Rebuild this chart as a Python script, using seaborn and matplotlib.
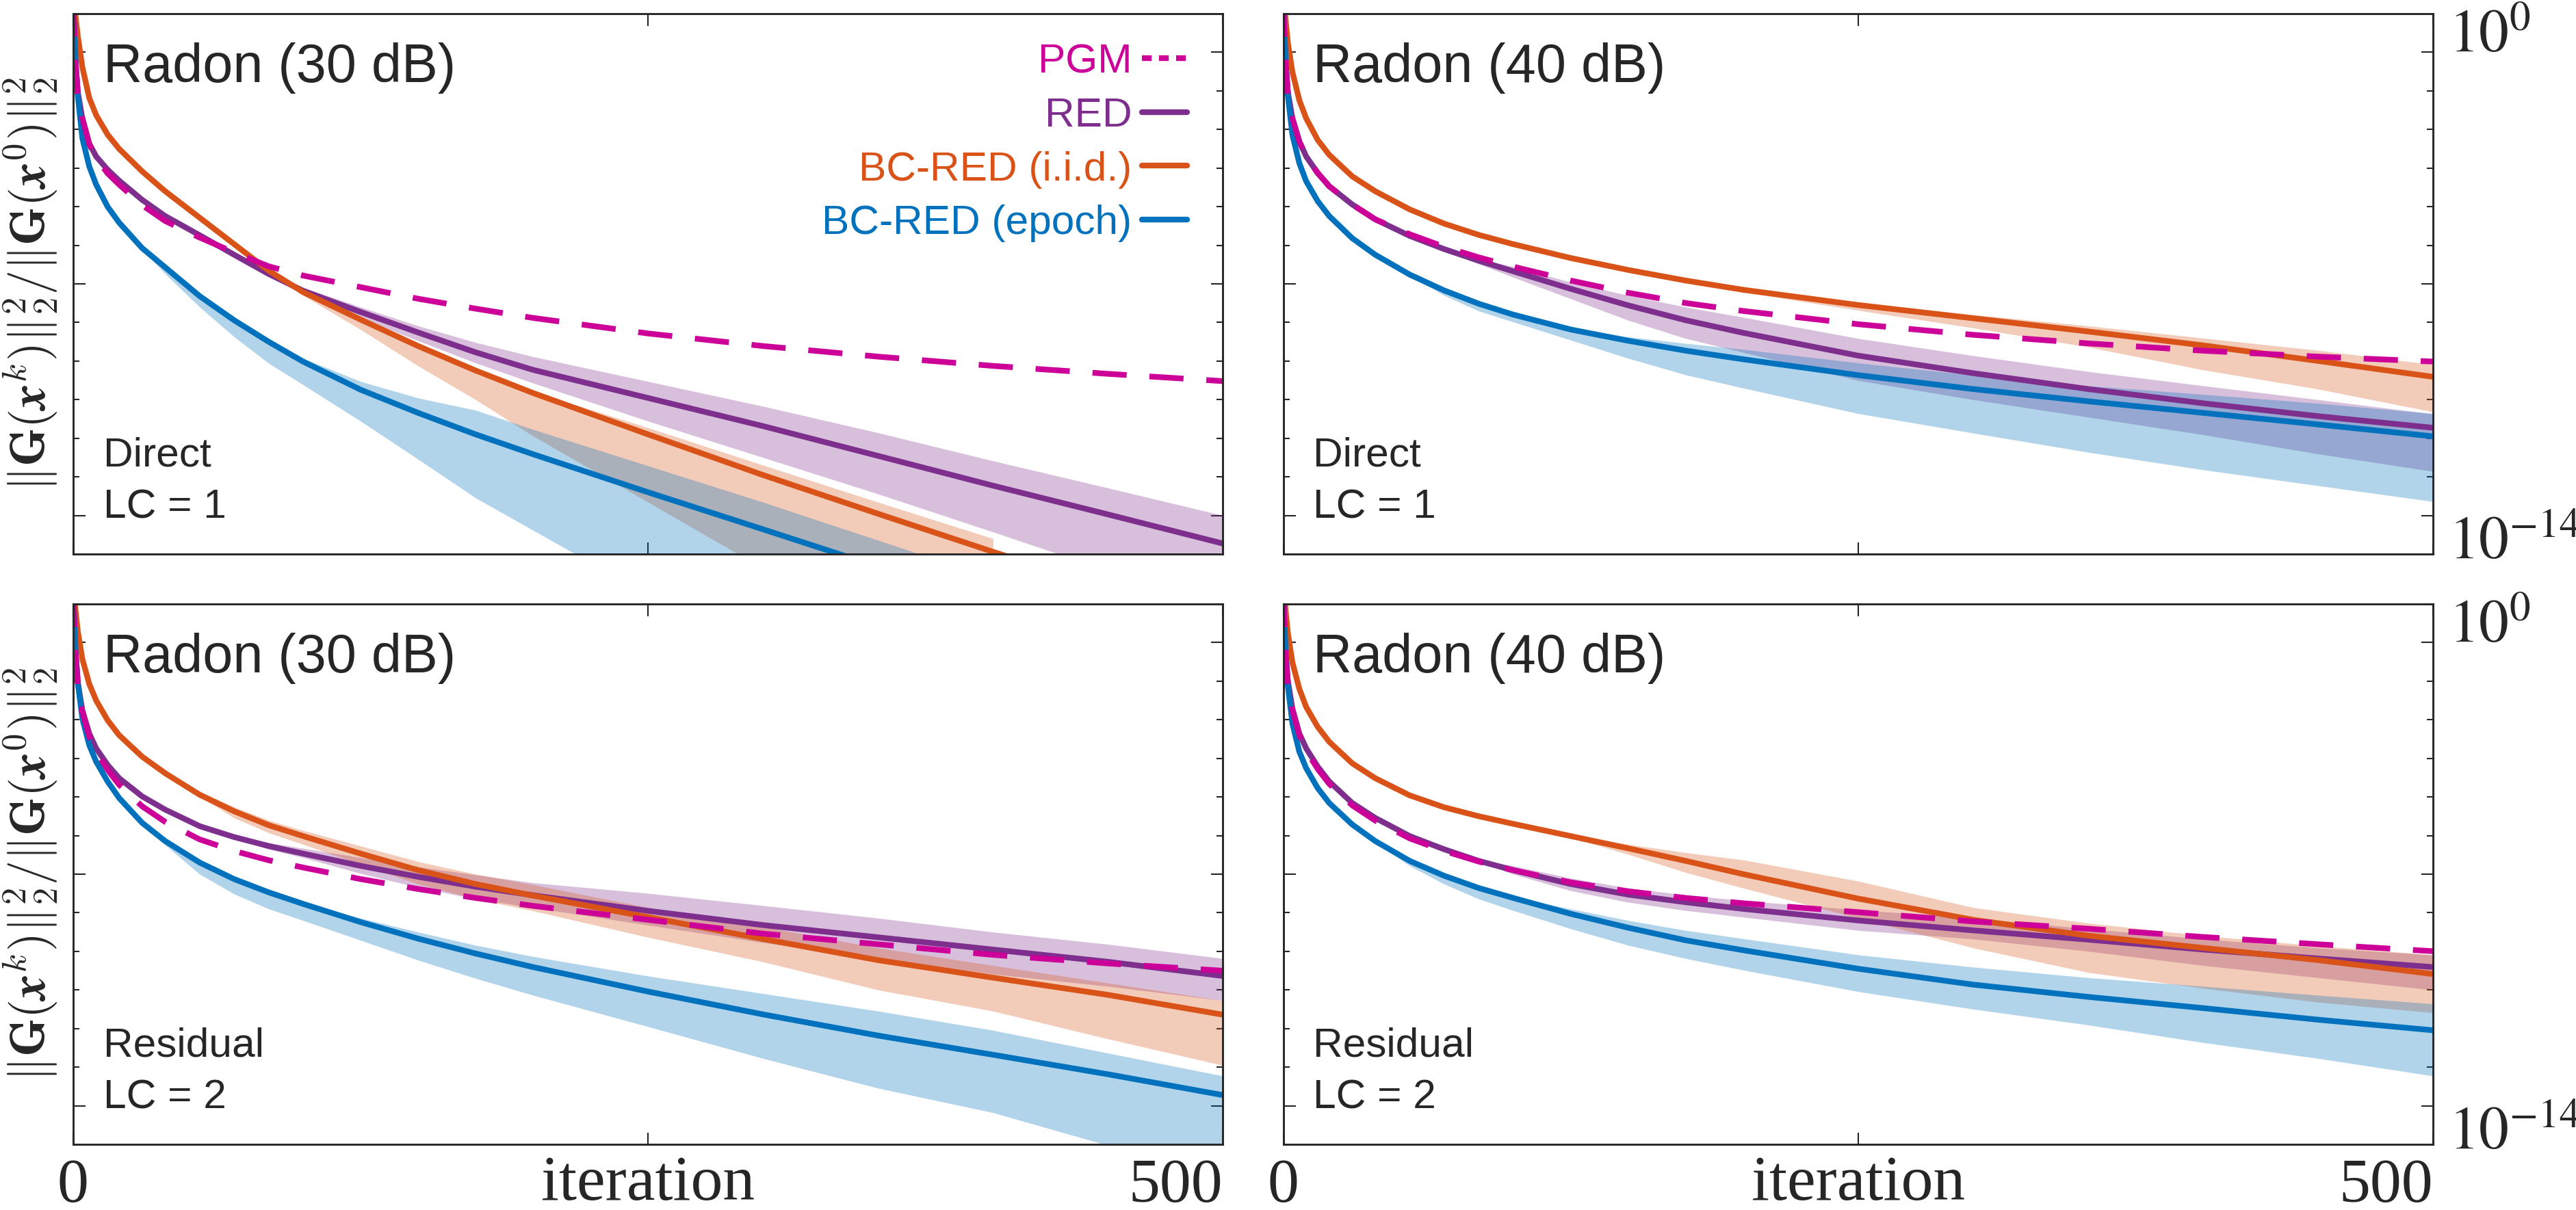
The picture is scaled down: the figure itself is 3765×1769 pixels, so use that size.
import numpy as np
import pandas as pd
import matplotlib
matplotlib.use("Agg")
import matplotlib.pyplot as plt
from matplotlib.ticker import NullFormatter
import seaborn as sns

nan = np.nan

iters = [0, 1, 2, 4, 7, 10, 15, 20, 30, 40, 55, 70, 85, 100, 125, 150, 175, 200, 250, 300, 350, 400, 450, 500]

# all values are log10 of ||G(x^k)||^2 / ||G(x^0)||^2
# --- top left: Radon (30 dB), Direct, LC = 1
tl_pgm = [1.5, -0.3, -1.2, -2.0, -2.78, -3.2, -3.66, -4.0, -4.62, -5.1, -5.6, -6.05, -6.47, -6.75, -7.1, -7.45, -7.75, -8.03, -8.5, -8.88, -9.2, -9.48, -9.72, -9.94]
tl_red = [1.5, -0.3, -1.2, -2.0, -2.76, -3.15, -3.55, -3.88, -4.46, -4.95, -5.53, -6.12, -6.7, -7.21, -7.85, -8.47, -9.07, -9.6, -10.45, -11.3, -12.2, -13.1, -13.97, -14.85]
tl_red_hi = [1.5, -0.26, -1.16, -1.96, -2.72, -3.11, -3.51, -3.84, -4.42, -4.91, -5.49, -6.08, -6.66, -7.11, -7.7, -8.27, -8.77, -9.2, -9.95, -10.7, -11.5, -12.35, -13.17, -14.0]
tl_red_lo = [1.5, -0.34, -1.24, -2.04, -2.8, -3.19, -3.59, -3.92, -4.5, -4.99, -5.57, -6.16, -6.74, -7.31, -8.03, -8.72, -9.39, -10.0, -11.15, -12.25, -13.35, -14.5, -15.67, -16.85]
tl_iid = [2.0, 1.1, 0.5, -0.45, -1.38, -1.9, -2.49, -2.92, -3.6, -4.2, -5.0, -5.8, -6.6, -7.25, -8.08, -8.88, -9.62, -10.3, -11.55, -12.78, -13.95, -15.1, -16.2, nan]
tl_iid_hi = [2.0, 1.15, 0.55, -0.4, -1.33, -1.85, -2.44, -2.87, -3.55, -4.15, -4.95, -5.75, -6.55, -7.2, -8.03, -8.83, -9.57, -10.25, -11.35, -12.48, -13.6, -14.7, -15.8, nan]
tl_iid_lo = [2.0, 1.05, 0.45, -0.5, -1.43, -1.95, -2.54, -2.97, -3.65, -4.25, -5.05, -5.85, -6.65, -7.35, -8.38, -9.48, -10.5, -11.6, -13.6, -15.6, -17.45, -19.3, nan, nan]
tl_epoch = [1.5, -0.2, -1.3, -2.6, -3.45, -4.0, -4.67, -5.15, -5.92, -6.5, -7.37, -8.1, -8.75, -9.35, -10.2, -10.9, -11.55, -12.15, -13.3, -14.42, -15.55, nan, nan, nan]
tl_epoch_hi = [1.5, -0.17, -1.27, -2.57, -3.42, -3.97, -4.64, -5.12, -5.89, -6.47, -7.34, -8.07, -8.7, -9.25, -9.95, -10.45, -10.82, -11.4, -12.5, -13.6, -14.75, -15.9, nan, nan]
tl_epoch_lo = [1.5, -0.23, -1.33, -2.63, -3.48, -4.03, -4.7, -5.18, -5.95, -6.7, -7.7, -8.6, -9.4, -10.05, -11.15, -12.3, -13.47, -14.45, -16.4, -18.4, -20.4, -22.4, nan, nan]

# --- top right: Radon (40 dB), Direct, LC = 1
tr_pgm = [1.5, -0.3, -1.2, -2.0, -2.7, -3.15, -3.65, -4.05, -4.6, -5.05, -5.5, -5.88, -6.2, -6.48, -6.9, -7.27, -7.58, -7.82, -8.22, -8.54, -8.8, -9.02, -9.2, -9.35]
tr_red = [1.5, -0.3, -1.2, -2.0, -2.7, -3.15, -3.65, -4.05, -4.6, -5.05, -5.55, -5.95, -6.3, -6.62, -7.15, -7.65, -8.1, -8.48, -9.17, -9.7, -10.18, -10.61, -11.0, -11.35]
tr_red_hi = [1.5, -0.26, -1.16, -1.96, -2.66, -3.11, -3.61, -4.01, -4.56, -5.01, -5.51, -5.91, -6.24, -6.48, -6.95, -7.35, -7.7, -8.01, -8.65, -9.17, -9.65, -10.08, -10.5, -10.93]
tr_red_lo = [1.5, -0.34, -1.24, -2.04, -2.74, -3.19, -3.69, -4.09, -4.64, -5.09, -5.59, -5.99, -6.4, -6.8, -7.45, -8.1, -8.65, -9.07, -9.92, -10.5, -11.03, -11.56, -12.14, -12.67]
tr_iid = [2.0, 1.0, 0.3, -0.6, -1.45, -2.0, -2.65, -3.1, -3.75, -4.2, -4.75, -5.18, -5.52, -5.8, -6.22, -6.58, -6.9, -7.18, -7.64, -8.04, -8.44, -8.86, -9.33, -9.81]
tr_iid_hi = [2.0, 1.05, 0.35, -0.55, -1.4, -1.95, -2.6, -3.05, -3.7, -4.15, -4.7, -5.13, -5.47, -5.75, -6.17, -6.53, -6.85, -7.12, -7.56, -7.93, -8.27, -8.64, -9.01, -9.44]
tr_iid_lo = [2.0, 0.95, 0.25, -0.65, -1.5, -2.05, -2.7, -3.15, -3.8, -4.25, -4.8, -5.23, -5.57, -5.85, -6.27, -6.63, -6.97, -7.25, -7.8, -8.33, -8.91, -9.6, -10.18, -10.87]
tr_epoch = [1.5, -0.2, -1.3, -2.5, -3.35, -3.9, -4.5, -4.95, -5.62, -6.12, -6.72, -7.2, -7.6, -7.93, -8.38, -8.72, -9.02, -9.28, -9.76, -10.18, -10.55, -10.9, -11.25, -11.61]
tr_epoch_hi = [1.5, -0.16, -1.26, -2.46, -3.31, -3.86, -4.46, -4.91, -5.58, -6.08, -6.68, -7.16, -7.56, -7.89, -8.33, -8.6, -8.8, -8.98, -9.39, -9.76, -10.08, -10.34, -10.61, -10.92]
tr_epoch_lo = [1.5, -0.24, -1.34, -2.54, -3.39, -3.94, -4.54, -4.99, -5.66, -6.16, -6.76, -7.35, -7.82, -8.15, -8.7, -9.25, -9.75, -10.15, -10.92, -11.51, -12.09, -12.62, -13.1, -13.58]

# --- bottom left: Radon (30 dB), Residual, LC = 2
bl_pgm = [1.5, -0.3, -1.2, -2.1, -2.85, -3.3, -3.85, -4.3, -4.95, -5.42, -5.95, -6.3, -6.58, -6.8, -7.15, -7.45, -7.72, -7.96, -8.38, -8.8, -9.12, -9.44, -9.7, -9.92]
bl_red = [1.5, -0.3, -1.2, -2.05, -2.75, -3.2, -3.7, -4.1, -4.65, -5.05, -5.55, -5.88, -6.15, -6.38, -6.75, -7.08, -7.38, -7.64, -8.11, -8.54, -8.91, -9.28, -9.65, -10.08]
bl_red_hi = [1.5, -0.26, -1.16, -2.01, -2.71, -3.16, -3.66, -4.06, -4.61, -5.01, -5.51, -5.84, -6.05, -6.22, -6.5, -6.78, -7.02, -7.26, -7.58, -7.95, -8.33, -8.75, -9.12, -9.55]
bl_red_lo = [1.5, -0.34, -1.24, -2.09, -2.79, -3.24, -3.74, -4.14, -4.69, -5.09, -5.59, -5.92, -6.25, -6.5, -6.98, -7.4, -7.75, -8.01, -8.54, -9.07, -9.55, -10.02, -10.39, -10.82]
bl_iid = [2.0, 1.0, 0.35, -0.5, -1.25, -1.75, -2.35, -2.8, -3.45, -3.95, -4.6, -5.1, -5.52, -5.85, -6.38, -6.88, -7.3, -7.65, -8.3, -8.96, -9.6, -10.13, -10.65, -11.25]
bl_iid_hi = [2.0, 1.05, 0.4, -0.45, -1.2, -1.7, -2.3, -2.75, -3.4, -3.9, -4.5, -4.97, -5.37, -5.68, -6.15, -6.62, -7.0, -7.32, -8.01, -8.59, -9.23, -9.76, -10.29, -10.82]
bl_iid_lo = [2.0, 0.95, 0.3, -0.55, -1.3, -1.8, -2.4, -2.85, -3.5, -4.0, -4.65, -5.3, -5.75, -6.1, -6.7, -7.3, -7.75, -8.11, -8.91, -9.65, -10.5, -11.14, -11.98, -12.78]
bl_epoch = [1.5, -0.2, -1.2, -2.3, -3.1, -3.6, -4.2, -4.7, -5.45, -6.0, -6.65, -7.15, -7.55, -7.9, -8.45, -8.95, -9.4, -9.81, -10.55, -11.24, -11.88, -12.46, -13.05, -13.68]
bl_epoch_hi = [1.5, -0.16, -1.16, -2.26, -3.06, -3.56, -4.16, -4.66, -5.41, -5.96, -6.61, -7.11, -7.51, -7.86, -8.33, -8.75, -9.15, -9.49, -10.08, -10.61, -11.14, -11.72, -12.41, -13.1]
bl_epoch_lo = [1.5, -0.24, -1.24, -2.34, -3.14, -3.64, -4.24, -4.74, -5.49, -6.12, -7.0, -7.6, -8.05, -8.4, -9.0, -9.6, -10.15, -10.66, -11.61, -12.57, -13.47, -14.21, -15.2, -16.0]

# --- bottom right: Radon (40 dB), Residual, LC = 2
br_pgm = [1.5, -0.3, -1.2, -2.05, -2.8, -3.27, -3.82, -4.27, -4.92, -5.38, -5.92, -6.3, -6.62, -6.88, -7.25, -7.52, -7.72, -7.88, -8.15, -8.43, -8.65, -8.9, -9.12, -9.33]
br_red = [1.5, -0.3, -1.15, -2.0, -2.75, -3.2, -3.75, -4.2, -4.85, -5.3, -5.85, -6.25, -6.6, -6.88, -7.3, -7.62, -7.85, -8.05, -8.4, -8.7, -8.98, -9.28, -9.55, -9.81]
br_red_hi = [1.5, -0.26, -1.11, -1.96, -2.71, -3.16, -3.71, -4.16, -4.81, -5.26, -5.81, -6.21, -6.56, -6.75, -7.12, -7.42, -7.63, -7.8, -8.08, -8.33, -8.65, -8.96, -9.23, -9.44]
br_red_lo = [1.5, -0.34, -1.19, -2.04, -2.79, -3.24, -3.79, -4.24, -4.89, -5.34, -5.89, -6.29, -6.64, -7.0, -7.5, -7.85, -8.1, -8.3, -8.7, -8.96, -9.33, -9.76, -10.13, -10.5]
br_iid = [2.0, 1.0, 0.3, -0.6, -1.4, -1.95, -2.55, -3.0, -3.65, -4.1, -4.62, -4.98, -5.25, -5.48, -5.85, -6.22, -6.6, -7.0, -7.74, -8.38, -8.86, -9.23, -9.6, -10.02]
br_iid_hi = [2.0, 1.04, 0.34, -0.56, -1.36, -1.91, -2.51, -2.96, -3.61, -4.06, -4.58, -4.94, -5.21, -5.44, -5.8, -6.1, -6.35, -6.57, -7.21, -8.01, -8.48, -8.86, -9.17, -9.44]
br_iid_lo = [2.0, 0.95, 0.25, -0.65, -1.45, -2.0, -2.6, -3.05, -3.7, -4.15, -4.67, -5.03, -5.3, -5.53, -5.9, -6.4, -6.95, -7.42, -8.33, -9.23, -9.97, -10.45, -10.87, -11.19]
br_epoch = [1.5, -0.2, -1.3, -2.45, -3.3, -3.8, -4.4, -4.85, -5.5, -6.0, -6.6, -7.05, -7.42, -7.72, -8.2, -8.62, -9.0, -9.3, -9.86, -10.34, -10.71, -11.05, -11.4, -11.72]
br_epoch_hi = [1.5, -0.16, -1.26, -2.41, -3.26, -3.76, -4.36, -4.81, -5.46, -5.96, -6.56, -7.01, -7.38, -7.68, -8.05, -8.4, -8.7, -8.95, -9.44, -9.81, -10.13, -10.39, -10.66, -10.92]
br_epoch_lo = [1.5, -0.24, -1.34, -2.49, -3.34, -3.84, -4.44, -4.89, -5.54, -6.04, -6.75, -7.3, -7.75, -8.1, -8.65, -9.15, -9.55, -9.9, -10.55, -11.08, -11.56, -12.09, -12.57, -13.1]

methods = ["PGM", "RED", "BC-RED (i.i.d.)", "BC-RED (epoch)"]
colors = ["#CC0099", "#7E2F8E", "#D95319", "#0072BD"]
titles = ["Radon (30 dB)", "Radon (40 dB)", "Radon (30 dB)", "Radon (40 dB)"]
notes = [("Direct", "LC = 1"), ("Direct", "LC = 1"), ("Residual", "LC = 2"), ("Residual", "LC = 2")]

panels = [
    {"lines": [tl_pgm, tl_red, tl_iid, tl_epoch],
     "bands": [(tl_red_lo, tl_red_hi), (tl_iid_lo, tl_iid_hi), (tl_epoch_lo, tl_epoch_hi)]},
    {"lines": [tr_pgm, tr_red, tr_iid, tr_epoch],
     "bands": [(tr_red_lo, tr_red_hi), (tr_iid_lo, tr_iid_hi), (tr_epoch_lo, tr_epoch_hi)]},
    {"lines": [bl_pgm, bl_red, bl_iid, bl_epoch],
     "bands": [(bl_red_lo, bl_red_hi), (bl_iid_lo, bl_iid_hi), (bl_epoch_lo, bl_epoch_hi)]},
    {"lines": [br_pgm, br_red, br_iid, br_epoch],
     "bands": [(br_red_lo, br_red_hi), (br_iid_lo, br_iid_hi), (br_epoch_lo, br_epoch_hi)]},
]

sns.set_theme(style="white")
plt.rcParams["font.family"] = ["Liberation Sans", "DejaVu Sans"]
plt.rcParams["mathtext.fontset"] = "stix"
plt.rcParams["axes.edgecolor"] = "#262626"
plt.rcParams["axes.linewidth"] = 0.7

palette = dict(zip(methods, colors))
dashes = {"PGM": (6.0, 4.0), "RED": "", "BC-RED (i.i.d.)": "", "BC-RED (epoch)": ""}
draw_order = ["RED", "BC-RED (i.i.d.)", "BC-RED (epoch)", "PGM"]

fig, axes = plt.subplots(2, 2, figsize=(3765 / 300, 1769 / 300), dpi=300)
fig.subplots_adjust(left=0.0284, right=0.9445, bottom=0.0543, top=0.9887,
                    wspace=0.0524, hspace=0.0924)

ylo, yhi = 10.0 ** (-14 - 7 / 6), 10.0 ** (7 / 6)
minor = [10.0 ** (-7 * k / 6) for k in range(1, 12) if k != 6]
ylabel = r"$\Vert\mathbf{G}(\boldsymbol{x}^k)\Vert_2^2/\Vert\mathbf{G}(\boldsymbol{x}^0)\Vert_2^2$"

for i, (ax, p) in enumerate(zip(axes.flat, panels)):
    row, col = divmod(i, 2)
    ax.set_yscale("log")
    # shaded spread of the three RED variants
    for (lo, hi), c in zip(p["bands"], colors[1:]):
        ax.fill_between(iters, 10.0 ** np.array(lo), 10.0 ** np.array(hi),
                        color=c, alpha=0.3, lw=0)
    df = pd.DataFrame({
        "iteration": iters * 4,
        "value": np.concatenate([10.0 ** np.array(v) for v in p["lines"]]),
        "method": np.repeat(methods, len(iters)),
    })
    sns.lineplot(data=df, x="iteration", y="value", hue="method", style="method",
                 hue_order=draw_order, style_order=draw_order, palette=palette,
                 dashes=dashes, lw=2.0, errorbar=None, legend=False, ax=ax)

    ax.set_xlim(0, 500)
    ax.set_ylim(ylo, yhi)
    ax.set_xticks([0, 250, 500], labels=["0", "", "500"] if row == 1 else ["", "", ""])
    ax.set_yticks([1.0, 1e-7, 1e-14],
                  labels=["$10^{0}$", "", "$10^{-14}$"] if col == 1 else ["", "", ""])
    ax.set_yticks(minor, minor=True)
    ax.yaxis.set_minor_formatter(NullFormatter())
    ax.tick_params(which="both", direction="in", top=True, bottom=True, left=True, right=True,
                   color="#262626", width=0.5)
    ax.tick_params(which="major", length=4.2)
    ax.tick_params(which="minor", length=2.2)
    ax.tick_params(axis="x", pad=5.0, labelsize=22, labelbottom=(row == 1))
    ax.tick_params(axis="y", pad=5.5, labelsize=21, labelleft=False, labelright=(col == 1))
    if row == 1:
        for t in ax.get_xticklabels():
            t.set_fontfamily("Liberation Serif")
        ax.get_xticklabels()[2].set_ha("right")
        ax.set_xlabel("iteration", fontsize=22.5, family="Liberation Serif", va="baseline")
        ax.xaxis.set_label_coords(0.5, -0.1024)
    else:
        ax.set_xlabel("")
    if col == 1:
        yl = ax.get_yticklabels()
        yl[0].set_va("baseline")
        yl[2].set_va("top")
        ax.set_ylabel("")
    else:
        ax.set_ylabel(ylabel, fontsize=17.3, math_fontfamily="cm")
        ax.yaxis.set_label_coords(-0.012, 0.5)

    ax.text(0.026, 0.874, titles[i], transform=ax.transAxes, fontsize=19, va="baseline")
    ax.text(0.026, 0.162, notes[i][0], transform=ax.transAxes, fontsize=14.5, va="baseline")
    ax.text(0.026, 0.066, notes[i][1], transform=ax.transAxes, fontsize=14.5, va="baseline")

    if i == 0:
        lines = ax.get_lines()
        handles = [lines[3], lines[0], lines[1], lines[2]]
        leg = ax.legend(handles, methods, loc="upper right", bbox_to_anchor=(0.969, 0.945),
                        frameon=False, markerfirst=False, labelcolor="linecolor",
                        prop={"family": "Liberation Sans", "size": 14.5},
                        handlelength=1.1, handletextpad=0.24, labelspacing=0.39,
                        borderpad=0, borderaxespad=0)
        leg.get_lines()[0].set_dashes((1.7, 1.3))

fig.savefig("out.png", dpi=300, facecolor="white")
